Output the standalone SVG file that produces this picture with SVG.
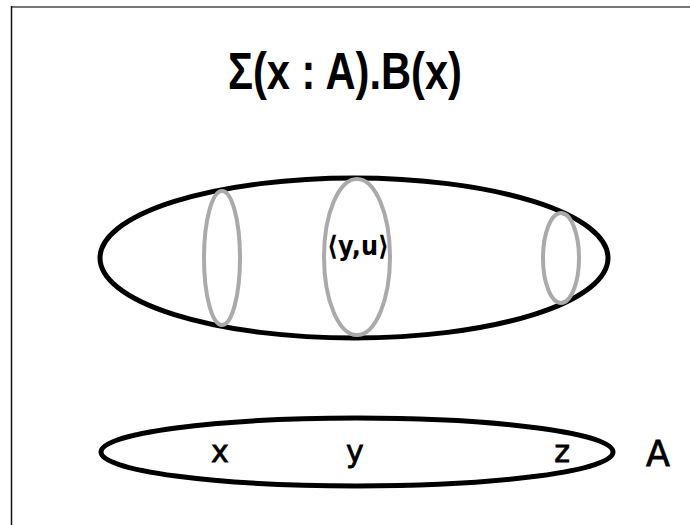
<svg xmlns="http://www.w3.org/2000/svg" width="690" height="525" viewBox="0 0 690 525">
<style>
.set{fill:none;stroke:#000;stroke-width:5}
.fib{fill:none;stroke:#aaa;stroke-width:4}
.lbl{font-family:"DejaVu Sans","Noto Sans",sans-serif;font-size:30px;fill:#000;text-anchor:middle;stroke:#000;stroke-width:0.8}
.title{font-family:"Liberation Sans",Arial,sans-serif;font-size:52px;fill:#000;text-anchor:middle;font-weight:bold}
</style>
<rect width="690" height="525" fill="#fff"/>
<g id="frame">
<line x1="11" y1="7" x2="690" y2="7" stroke="#777" stroke-width="2"/>
<line x1="11.5" y1="6" x2="11.5" y2="525" stroke="#111" stroke-width="1.5"/>
</g>
<g id="title"><text class="title" x="345" y="89" textLength="234" lengthAdjust="spacingAndGlyphs">Σ(x : A).B(x)</text></g>
<g id="sigma">
<ellipse class="set" cx="354" cy="258" rx="254" ry="80"/>
</g>
<g id="fibers">
<ellipse class="fib" cx="222" cy="258" rx="18" ry="67"/>
<ellipse class="fib" cx="357" cy="257" rx="33" ry="78"/>
<ellipse class="fib" cx="561" cy="258" rx="18" ry="45"/>
</g>
<g id="pair"><text class="lbl" x="358" y="255" style="font-size:27px;font-weight:bold;stroke-width:0" textLength="62" lengthAdjust="spacingAndGlyphs">⟨y,u⟩</text></g>
<g id="baseA">
<ellipse class="set" cx="357" cy="452" rx="256" ry="34"/>
</g>
<g id="labels">
<text class="lbl" x="220" y="462">x</text>
<text class="lbl" x="355" y="462">y</text>
<text class="lbl" x="562" y="462">z</text>
<text class="lbl" x="658" y="466" style="font-size:35px">A</text>
</g>
<g id="connectors"/>
</svg>
